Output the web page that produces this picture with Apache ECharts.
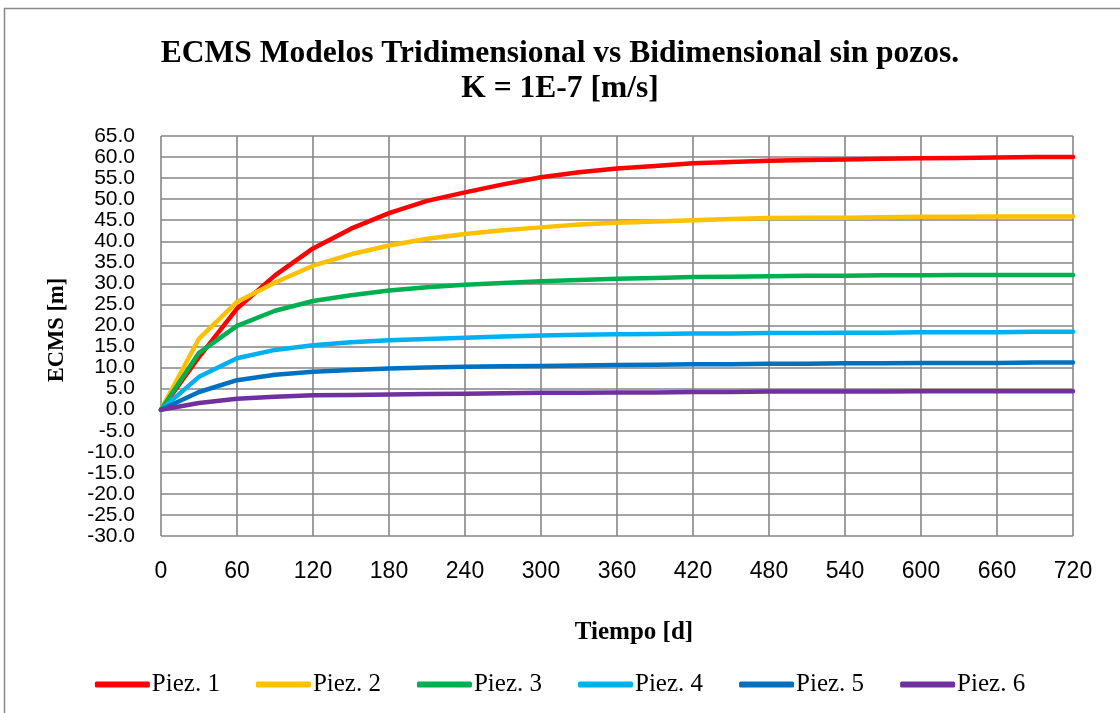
<!DOCTYPE html>
<html><head><meta charset="utf-8">
<script src="https://cdn.jsdelivr.net/npm/echarts@6/dist/echarts.min.js"></script>
<style>html,body{margin:0;padding:0;background:#fff}#c{width:1120px;height:713px}</style>
</head><body><div id="c"></div>
<script>
const days = [0,30,60,90,120,150,180,210,240,270,300,330,360,390,420,450,480,510,540,570,600,630,660,690,720];
const piez1 = [0,12.5,24.0,31.9,38.3,43.0,46.7,49.6,51.6,53.5,55.2,56.4,57.3,57.9,58.5,58.8,59.1,59.3,59.4,59.6,59.7,59.8,59.9,60.0,60.0];
const piez2 = [0,16.9,25.6,30.2,34.2,36.9,39.0,40.6,41.7,42.6,43.3,44.0,44.4,44.7,45.0,45.3,45.5,45.6,45.6,45.7,45.8,45.8,45.9,45.9,45.9];
const piez3 = [0,13.5,19.9,23.5,25.8,27.2,28.3,29.1,29.7,30.1,30.5,30.8,31.1,31.3,31.5,31.6,31.7,31.8,31.8,31.9,31.9,32.0,32.0,32.0,32.0];
const piez4 = [0,7.8,12.2,14.2,15.3,16.0,16.5,16.8,17.1,17.4,17.6,17.8,17.9,18.0,18.1,18.1,18.2,18.2,18.3,18.3,18.4,18.4,18.4,18.5,18.5];
const piez5 = [0,4.2,7.0,8.3,9.0,9.4,9.8,10.0,10.2,10.3,10.4,10.5,10.6,10.7,10.8,10.8,10.9,10.9,11.0,11.0,11.1,11.1,11.1,11.2,11.2];
const piez6 = [0,1.6,2.6,3.1,3.4,3.5,3.6,3.7,3.8,3.9,4.0,4.0,4.1,4.1,4.2,4.2,4.3,4.3,4.3,4.3,4.4,4.4,4.4,4.4,4.4];
const names = ['Piez. 1','Piez. 2','Piez. 3','Piez. 4','Piez. 5','Piez. 6'];
const colors = ['#FF0000','#FFC000','#00B050','#00B0F0','#0070C0','#7030A0'];
const allData = [piez1,piez2,piez3,piez4,piez5,piez6];
const titleText = 'ECMS Modelos Tridimensional vs Bidimensional sin pozos.\nK = 1E-7 [m/s]';
const xName = 'Tiempo [d]';
const yName = 'ECMS [m]';

const chart = echarts.init(document.getElementById('c'));
const serif = '"Liberation Serif","Times New Roman",serif';
const sans = '"Liberation Sans","DejaVu Sans",sans-serif';
chart.setOption({
  animation:false,
  color: colors,
  title:{text:titleText,left:'center',top:31,textStyle:{fontFamily:serif,fontWeight:'bold',fontSize:31.5,lineHeight:35,color:'#000'}},
  graphic:[{type:'rect',shape:{x:4.5,y:8.5,width:1130,height:720},style:{fill:'none',stroke:'#898989',lineWidth:1.5},silent:true}],
  legend:{data:names,top:667,left:'center',icon:'roundRect',itemWidth:55,itemHeight:6,itemGap:36,
    textStyle:{fontFamily:serif,fontSize:25,color:'#000',padding:[0,0,0,-3]}},
  grid:{left:161,right:47,top:136,bottom:177},
  xAxis:{type:'value',min:0,max:720,interval:60,name:xName,nameLocation:'middle',nameGap:84,
    nameTextStyle:{fontFamily:serif,fontWeight:'bold',fontSize:25,color:'#000',padding:[0,0,0,34]},
    axisLine:{show:false},axisTick:{show:false},
    axisLabel:{fontFamily:sans,fontSize:23,color:'#000',margin:24},
    splitLine:{show:true,lineStyle:{color:'#868686',width:1.6}}},
  yAxis:{type:'value',min:-30,max:65,interval:5,name:yName,nameLocation:'middle',nameGap:92,
    nameTextStyle:{fontFamily:serif,fontWeight:'bold',fontSize:22.5,color:'#000',padding:[0,0,0,12]},
    axisLine:{show:false},axisTick:{show:false},
    axisLabel:{fontFamily:sans,fontSize:21,lineHeight:16,color:'#000',margin:26,formatter:v=>v.toFixed(1)},
    splitLine:{show:true,lineStyle:{color:'#868686',width:1.6}}},
  series: allData.map((d,i)=>({name:names[i],type:'line',symbol:'none',smooth:false,
    data:days.map((x,j)=>[x,d[j]]),lineStyle:{width:4.5,color:colors[i],cap:'round',join:'round'},itemStyle:{color:colors[i]}}))
});
</script></body></html>
